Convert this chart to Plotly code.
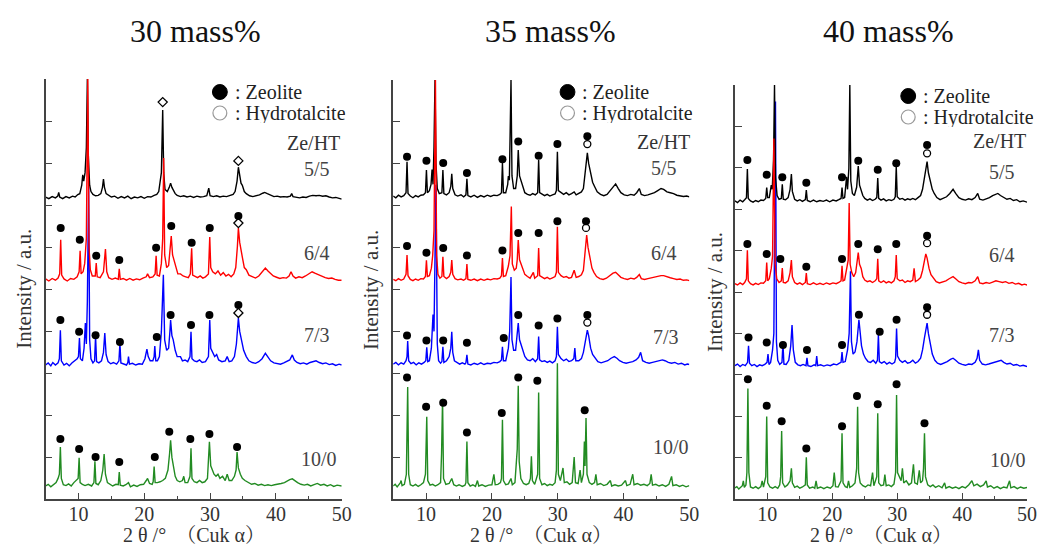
import plotly.graph_objects as go

# ---------------- data (2theta, intensity above own baseline, a.u.) ----------------
PANEL_TITLES = ["30 mass%", "35 mass%", "40 mass%"]
RATIOS = ["5/5", "6/4", "7/3", "10/0"]
X_MAJOR = [10, 20, 30, 40, 50]
X_MINOR = [15, 25, 35, 45]

bk30 = [(5.0,0.02),(5.5,-0.02),(6.0,0.03),(6.5,0.0),(6.85,0.04),(7.0,0.13),(7.15,0.02),(7.6,-0.02),(8.1,0.03),(8.6,0.0),(9.1,0.04),(9.5,0.02),(9.9,0.08),(10.2,0.1),(10.5,0.3),(10.65,0.55),(10.8,0.4),(11.0,0.6),(11.2,1.2),(11.35,2.83),(11.5,1.0),(11.7,0.3),(11.9,0.15),(12.2,0.08),(12.6,0.05),(13.0,0.06),(13.4,0.1),(13.65,0.25),(13.8,0.45),(13.95,0.25),(14.2,0.1),(14.6,0.05),(15.0,0.02),(15.5,0.04),(16.0,-0.01),(16.5,0.03),(17.0,0.0),(17.5,0.04),(18.0,-0.02),(18.5,0.02),(19.0,0.0),(19.5,0.03),(20.0,-0.01),(20.5,0.03),(21.0,0.02),(21.5,0.06),(21.9,0.08),(22.2,0.15),(22.45,0.5),(22.6,0.6),(22.8,2.09),(22.95,0.6),(23.15,0.2),(23.5,0.15),(23.8,0.25),(24.0,0.35),(24.2,0.25),(24.4,0.2),(24.7,0.1),(25.0,0.06),(25.5,0.03),(26.0,0.05),(26.5,0.02),(27.0,0.04),(27.5,0.01),(28.0,0.04),(28.5,0.02),(29.0,0.03),(29.5,0.05),(29.8,0.23),(30.0,0.05),(30.5,0.03),(31.0,0.05),(31.5,0.02),(32.0,0.04),(32.5,0.03),(33.0,0.05),(33.5,0.08),(33.8,0.15),(34.1,0.4),(34.3,0.73),(34.5,0.5),(34.7,0.35),(34.9,0.3),(35.2,0.15),(35.5,0.1),(36.0,0.05),(36.5,0.03),(37.0,0.05),(37.5,0.07),(38.0,0.11),(38.3,0.13),(38.7,0.1),(39.2,0.06),(39.7,0.03),(40.2,0.04),(40.7,0.02),(41.2,0.03),(41.7,0.02),(42.2,0.04),(42.4,0.1),(42.6,0.03),(43.1,0.02),(43.6,0.0),(44.1,0.02),(44.6,0.01),(45.1,0.04),(45.6,0.06),(46.1,0.05),(46.6,0.06),(47.1,0.04),(47.6,0.05),(48.1,0.02),(48.6,0.0),(49.1,0.01),(49.6,-0.02),(50.0,-0.03)]

rd30 = [(5.0,0.03),(5.5,-0.02),(6.0,0.04),(6.5,0.0),(6.9,0.05),(7.15,0.15),(7.3,0.96),(7.45,0.12),(7.8,0.03),(8.3,-0.02),(8.8,0.04),(9.3,0.02),(9.8,0.08),(10.1,0.2),(10.25,0.7),(10.4,0.15),(10.7,0.2),(10.95,0.4),(11.2,1.0),(11.42,4.79),(11.6,0.8),(11.8,0.25),(12.1,0.1),(12.55,0.1),(12.7,0.41),(12.85,0.08),(13.3,0.06),(13.8,0.2),(14.1,0.74),(14.3,0.2),(14.6,0.06),(15.1,0.02),(15.6,0.05),(16.05,0.02),(16.2,0.27),(16.35,0.02),(16.8,0.04),(17.3,0.0),(17.8,0.04),(18.3,0.0),(18.8,0.03),(19.3,0.01),(19.8,0.05),(20.3,0.08),(20.5,0.15),(20.8,0.06),(21.3,0.08),(21.65,0.15),(21.8,0.58),(21.95,0.12),(22.3,0.1),(22.6,0.4),(22.8,1.0),(22.95,2.91),(23.1,0.6),(23.4,0.3),(23.7,0.35),(23.95,0.7),(24.1,1.05),(24.3,0.6),(24.5,0.5),(24.8,0.3),(25.1,0.15),(25.5,0.15),(25.9,0.1),(26.3,0.08),(26.7,0.06),(27.0,0.15),(27.2,0.76),(27.35,0.12),(27.7,0.1),(28.1,0.06),(28.5,0.1),(28.9,0.05),(29.3,0.08),(29.75,0.15),(29.95,1.03),(30.1,0.3),(30.4,0.2),(30.8,0.15),(31.2,0.22),(31.6,0.12),(32.0,0.18),(32.4,0.1),(32.8,0.14),(33.2,0.08),(33.6,0.15),(33.9,0.3),(34.15,0.8),(34.3,1.24),(34.5,0.9),(34.75,0.6),(34.9,0.55),(35.2,0.3),(35.5,0.25),(35.9,0.12),(36.4,0.08),(36.9,0.05),(37.4,0.1),(37.8,0.18),(38.1,0.24),(38.4,0.29),(38.8,0.22),(39.2,0.15),(39.6,0.1),(40.1,0.07),(40.6,0.04),(41.1,0.06),(41.6,0.05),(42.0,0.1),(42.3,0.2),(42.6,0.1),(43.0,0.05),(43.5,0.08),(44.0,0.06),(44.5,0.1),(45.0,0.15),(45.5,0.2),(46.0,0.16),(46.5,0.12),(47.0,0.1),(47.5,0.06),(48.0,0.04),(48.5,0.05),(49.0,0.02),(49.5,0.0),(50.0,0.0)]

bl30 = [(5.0,0.0),(5.4,0.05),(5.8,-0.02),(6.1,0.06),(6.5,0.0),(6.9,0.05),(7.1,0.15),(7.25,0.83),(7.4,0.1),(7.8,0.0),(8.2,0.04),(8.6,-0.02),(9.0,0.05),(9.4,0.1),(9.8,0.15),(10.0,0.2),(10.15,0.64),(10.3,0.15),(10.6,0.1),(10.85,0.4),(11.05,1.0),(11.2,0.5),(11.35,1.5),(11.55,4.25),(11.7,0.6),(11.9,0.15),(12.2,0.05),(12.45,0.1),(12.6,0.69),(12.75,0.08),(13.1,0.05),(13.5,0.1),(13.8,0.3),(14.0,0.76),(14.2,0.25),(14.5,0.08),(14.9,0.03),(15.3,0.06),(15.8,0.02),(16.15,0.1),(16.3,0.52),(16.45,0.05),(16.9,0.03),(17.3,0.0),(17.5,0.06),(17.6,0.2),(17.75,0.02),(18.2,0.04),(18.7,0.0),(19.2,0.03),(19.7,0.02),(20.1,0.15),(20.4,0.38),(20.6,0.2),(20.9,0.1),(21.3,0.1),(21.5,0.2),(21.6,0.45),(21.75,0.1),(22.0,0.1),(22.3,0.2),(22.6,0.8),(22.9,2.15),(23.1,0.6),(23.4,0.35),(23.7,0.4),(23.9,0.8),(24.0,1.07),(24.2,0.7),(24.4,0.6),(24.7,0.35),(25.0,0.2),(25.5,0.2),(25.8,0.1),(26.2,0.12),(26.6,0.08),(26.95,0.2),(27.1,0.79),(27.25,0.15),(27.6,0.1),(28.0,0.08),(28.4,0.12),(28.8,0.06),(29.3,0.08),(29.75,0.2),(29.95,1.07),(30.1,0.4),(30.4,0.3),(30.7,0.2),(31.0,0.25),(31.3,0.12),(31.8,0.08),(32.3,0.1),(32.6,0.2),(32.9,0.08),(33.3,0.1),(33.7,0.2),(34.0,0.5),(34.3,1.12),(34.5,0.8),(34.8,0.55),(35.1,0.35),(35.5,0.2),(35.9,0.1),(36.4,0.06),(36.9,0.04),(37.4,0.08),(37.9,0.15),(38.4,0.28),(38.8,0.2),(39.2,0.1),(39.7,0.05),(40.2,0.04),(40.7,0.02),(41.2,0.05),(41.7,0.08),(42.1,0.12),(42.5,0.24),(42.8,0.12),(43.2,0.06),(43.7,0.03),(44.2,0.05),(44.7,0.02),(45.2,0.06),(45.7,0.08),(46.1,0.1),(46.6,0.06),(47.1,0.03),(47.6,0.05),(48.1,0.01),(48.6,0.03),(49.1,-0.01),(49.6,0.02),(50.0,0.0)]

gr30 = [(5.0,0.02),(5.4,0.06),(5.8,0.0),(6.2,0.05),(6.6,0.1),(6.9,0.2),(7.1,0.3),(7.25,0.95),(7.4,0.2),(7.7,0.05),(8.1,0.03),(8.5,0.07),(8.9,0.02),(9.3,0.1),(9.6,0.15),(9.95,0.2),(10.1,0.69),(10.25,0.1),(10.6,0.06),(11.0,0.03),(11.5,0.06),(12.0,0.02),(12.35,0.1),(12.5,0.61),(12.65,0.08),(13.0,0.05),(13.4,0.15),(13.7,0.4),(13.9,0.78),(14.1,0.3),(14.4,0.1),(14.8,0.05),(15.2,0.02),(15.7,0.06),(16.05,0.05),(16.2,0.35),(16.35,0.04),(16.8,0.02),(17.2,0.05),(17.6,0.1),(17.9,0.0),(18.4,0.04),(18.9,0.01),(19.4,0.05),(19.9,0.06),(20.3,0.15),(20.5,0.2),(20.8,0.08),(21.2,0.06),(21.35,0.12),(21.5,0.48),(21.65,0.1),(22.0,0.1),(22.4,0.12),(22.8,0.15),(23.2,0.2),(23.6,0.4),(23.85,0.8),(24.0,1.11),(24.2,0.7),(24.4,0.5),(24.7,0.25),(25.0,0.15),(25.4,0.12),(25.8,0.15),(26.0,0.25),(26.2,0.1),(26.6,0.1),(26.95,0.25),(27.1,0.92),(27.25,0.2),(27.6,0.12),(28.0,0.1),(28.4,0.15),(28.8,0.1),(29.2,0.12),(29.6,0.2),(29.9,1.07),(30.1,0.5),(30.3,0.4),(30.6,0.3),(30.9,0.25),(31.2,0.3),(31.5,0.2),(31.9,0.25),(32.3,0.15),(32.6,0.3),(32.9,0.15),(33.3,0.15),(33.7,0.25),(33.95,0.4),(34.1,0.83),(34.3,0.45),(34.6,0.3),(34.9,0.2),(35.3,0.15),(35.8,0.1),(36.3,0.06),(36.8,0.08),(37.3,0.04),(37.8,0.06),(38.3,0.03),(38.8,0.05),(39.3,0.03),(39.8,0.05),(40.3,0.06),(40.8,0.08),(41.3,0.1),(41.7,0.14),(42.1,0.17),(42.5,0.19),(42.9,0.14),(43.3,0.1),(43.8,0.06),(44.3,0.04),(44.8,0.06),(45.3,0.02),(45.8,0.05),(46.3,0.08),(46.8,0.04),(47.3,0.06),(47.8,0.02),(48.3,0.05),(48.8,0.01),(49.3,0.04),(50.0,0.02)]

bk35 = [(5.0,0.02),(5.4,-0.02),(5.8,0.04),(6.2,0.0),(6.6,0.03),(6.95,0.1),(7.1,0.84),(7.25,0.08),(7.6,0.02),(8.0,-0.02),(8.4,0.03),(8.8,0.0),(9.2,0.04),(9.6,0.05),(9.9,0.1),(10.05,0.64),(10.2,0.1),(10.5,0.15),(10.75,0.3),(10.9,0.65),(11.05,0.3),(11.2,1.2),(11.35,2.79),(11.5,0.8),(11.7,0.2),(12.0,0.08),(12.4,0.1),(12.55,0.64),(12.7,0.08),(13.1,0.05),(13.5,0.1),(13.75,0.25),(13.9,0.55),(14.05,0.2),(14.4,0.05),(14.8,0.02),(15.3,0.05),(15.7,0.0),(16.05,0.05),(16.2,0.43),(16.35,0.03),(16.8,0.0),(17.3,0.04),(17.8,-0.01),(18.3,0.03),(18.8,0.0),(19.3,0.04),(19.8,0.01),(20.3,0.04),(20.8,0.03),(21.2,0.06),(21.45,0.1),(21.6,0.81),(21.75,0.1),(22.1,0.1),(22.4,0.3),(22.5,0.5),(22.65,0.4),(22.9,2.79),(23.05,0.5),(23.3,0.2),(23.6,0.2),(23.85,0.5),(24.0,1.12),(24.2,0.5),(24.4,0.4),(24.7,0.2),(25.0,0.1),(25.4,0.06),(25.8,0.04),(26.2,0.08),(26.6,0.05),(26.95,0.1),(27.1,0.88),(27.25,0.1),(27.6,0.06),(28.0,0.03),(28.4,0.06),(28.8,0.02),(29.2,0.05),(29.6,0.07),(29.8,0.15),(29.95,1.08),(30.1,0.15),(30.5,0.1),(30.9,0.06),(31.3,0.1),(31.7,0.05),(32.1,0.08),(32.5,0.12),(32.8,0.05),(33.2,0.08),(33.6,0.12),(33.9,0.2),(34.2,0.6),(34.5,1.05),(34.7,0.8),(35.0,0.6),(35.3,0.35),(35.6,0.25),(36.0,0.12),(36.5,0.06),(37.0,0.03),(37.5,0.06),(38.0,0.15),(38.4,0.22),(38.8,0.31),(39.2,0.2),(39.6,0.1),(40.1,0.05),(40.6,0.03),(41.1,0.06),(41.6,0.04),(42.0,0.1),(42.4,0.2),(42.7,0.06),(43.2,0.03),(43.7,0.05),(44.2,0.08),(44.7,0.1),(45.2,0.15),(45.7,0.2),(46.1,0.18),(46.6,0.12),(47.1,0.1),(47.6,0.08),(48.1,0.04),(48.6,0.03),(49.1,0.01),(49.6,0.02),(50.0,0.0)]

rd35 = [(5.0,0.03),(5.4,0.0),(5.8,0.05),(6.2,0.01),(6.6,0.04),(6.95,0.15),(7.1,0.61),(7.25,0.12),(7.6,0.03),(8.0,0.0),(8.4,0.04),(8.8,0.01),(9.2,0.05),(9.6,0.04),(9.9,0.1),(10.05,0.49),(10.2,0.1),(10.5,0.12),(10.8,0.3),(11.0,0.6),(11.2,1.2),(11.42,4.79),(11.6,0.6),(11.8,0.15),(12.1,0.06),(12.4,0.1),(12.55,0.57),(12.7,0.1),(13.1,0.05),(13.5,0.1),(13.75,0.2),(13.9,0.49),(14.05,0.15),(14.4,0.05),(14.8,0.02),(15.3,0.04),(15.7,0.01),(16.05,0.05),(16.2,0.4),(16.35,0.03),(16.8,0.01),(17.3,0.04),(17.8,0.0),(18.3,0.04),(18.8,0.01),(19.3,0.04),(19.8,0.02),(20.3,0.05),(20.8,0.04),(21.2,0.06),(21.45,0.12),(21.6,0.54),(21.75,0.1),(22.1,0.12),(22.5,0.35),(22.75,0.6),(22.95,1.77),(23.1,0.4),(23.4,0.25),(23.7,0.3),(23.85,0.5),(24.0,0.97),(24.2,0.5),(24.4,0.4),(24.7,0.25),(25.0,0.15),(25.4,0.1),(25.8,0.06),(26.3,0.2),(26.5,0.06),(26.95,0.12),(27.1,0.78),(27.25,0.12),(27.6,0.08),(28.0,0.05),(28.4,0.08),(28.8,0.04),(29.2,0.07),(29.6,0.1),(29.8,0.2),(29.95,1.29),(30.1,0.2),(30.5,0.12),(30.9,0.08),(31.3,0.1),(31.7,0.06),(32.1,0.08),(32.5,0.25),(32.8,0.08),(33.2,0.1),(33.6,0.14),(33.9,0.25),(34.2,0.7),(34.4,1.09),(34.6,0.8),(34.9,0.5),(35.2,0.3),(35.5,0.2),(35.9,0.1),(36.4,0.05),(36.9,0.03),(37.4,0.06),(37.9,0.12),(38.4,0.18),(38.8,0.2),(39.2,0.14),(39.6,0.08),(40.1,0.05),(40.6,0.03),(41.1,0.06),(41.6,0.04),(42.0,0.08),(42.4,0.15),(42.7,0.05),(43.2,0.03),(43.7,0.05),(44.2,0.07),(44.7,0.08),(45.2,0.1),(45.7,0.12),(46.1,0.12),(46.6,0.09),(47.1,0.07),(47.6,0.05),(48.1,0.03),(48.6,0.04),(49.1,0.01),(49.6,0.02),(50.0,0.0)]

bl35 = [(5.0,0.02),(5.4,0.06),(5.8,0.0),(6.2,0.05),(6.6,0.02),(6.95,0.1),(7.1,0.2),(7.2,0.57),(7.35,0.1),(7.7,0.03),(8.1,0.06),(8.5,0.0),(8.9,0.05),(9.3,0.02),(9.7,0.06),(9.95,0.1),(10.1,0.42),(10.25,0.08),(10.5,0.1),(10.8,0.4),(11.05,1.2),(11.2,0.8),(11.5,4.3),(11.7,0.5),(11.9,0.1),(12.2,0.04),(12.4,0.08),(12.55,0.43),(12.7,0.06),(13.1,0.1),(13.5,0.2),(13.75,0.4),(13.9,0.79),(14.05,0.3),(14.3,0.1),(14.7,0.05),(15.1,0.02),(15.5,0.05),(15.9,0.02),(16.05,0.05),(16.2,0.24),(16.35,0.02),(16.8,0.0),(17.3,0.04),(17.8,0.01),(18.3,0.05),(18.8,0.01),(19.3,0.04),(19.8,0.03),(20.3,0.06),(20.8,0.05),(21.2,0.08),(21.45,0.12),(21.6,0.43),(21.75,0.1),(22.1,0.1),(22.5,0.4),(22.7,0.8),(22.9,2.1),(23.05,0.6),(23.3,0.35),(23.6,0.35),(23.85,0.7),(24.0,1.0),(24.2,0.6),(24.4,0.5),(24.7,0.3),(25.0,0.2),(25.4,0.12),(25.8,0.1),(26.2,0.15),(26.6,0.08),(26.95,0.15),(27.1,0.68),(27.25,0.12),(27.6,0.08),(28.0,0.1),(28.4,0.06),(28.8,0.09),(29.2,0.05),(29.6,0.1),(29.8,0.2),(29.95,0.91),(30.1,0.25),(30.5,0.15),(30.9,0.1),(31.3,0.14),(31.7,0.08),(32.1,0.1),(32.45,0.15),(32.6,0.4),(32.75,0.1),(33.2,0.1),(33.6,0.15),(33.9,0.3),(34.2,0.6),(34.5,0.83),(34.7,0.7),(35.0,0.4),(35.3,0.25),(35.7,0.15),(36.1,0.08),(36.6,0.05),(37.1,0.07),(37.6,0.1),(38.1,0.16),(38.6,0.2),(39.0,0.16),(39.4,0.1),(39.9,0.06),(40.4,0.04),(40.9,0.06),(41.4,0.08),(41.9,0.12),(42.3,0.18),(42.6,0.3),(42.9,0.1),(43.4,0.06),(43.9,0.04),(44.4,0.06),(44.9,0.08),(45.4,0.1),(45.9,0.12),(46.3,0.1),(46.8,0.06),(47.3,0.04),(47.8,0.06),(48.3,0.02),(48.8,0.04),(49.3,0.0),(49.7,0.02),(50.0,0.01)]

gr35 = [(5.0,0.02),(5.3,0.06),(5.6,0.0),(5.9,0.05),(6.1,0.1),(6.2,0.15),(6.35,0.03),(6.7,0.06),(7.0,0.3),(7.2,2.38),(7.35,0.3),(7.6,0.05),(8.0,0.02),(8.4,0.06),(8.8,0.01),(9.2,0.05),(9.6,0.1),(9.9,0.3),(10.1,1.67),(10.25,0.15),(10.6,0.04),(11.0,0.06),(11.4,0.02),(11.8,0.05),(12.2,0.1),(12.35,0.8),(12.5,2.1),(12.65,0.2),(13.0,0.06),(13.5,0.08),(13.9,0.2),(14.2,0.05),(14.6,0.02),(15.0,0.05),(15.5,0.01),(15.9,0.04),(16.05,0.1),(16.2,1.08),(16.35,0.1),(16.7,0.02),(17.1,0.05),(17.5,0.01),(17.8,0.15),(18.0,0.02),(18.5,0.05),(19.0,0.01),(19.5,0.04),(20.0,0.05),(20.3,0.3),(20.5,0.05),(20.9,0.06),(21.3,0.1),(21.45,0.2),(21.6,1.6),(21.75,0.15),(22.1,0.05),(22.5,0.07),(22.9,0.2),(23.1,0.05),(23.5,0.1),(23.85,0.9),(24.0,2.41),(24.15,0.6),(24.4,0.2),(24.8,0.08),(25.2,0.05),(25.6,0.08),(25.85,0.2),(26.0,0.73),(26.15,0.15),(26.5,0.06),(26.95,0.3),(27.1,2.25),(27.25,0.2),(27.6,0.05),(28.0,0.08),(28.4,0.03),(28.8,0.06),(29.2,0.04),(29.6,0.1),(29.8,0.4),(29.95,2.95),(30.1,0.3),(30.4,0.15),(30.8,0.45),(31.0,0.1),(31.4,0.12),(31.8,0.06),(32.2,0.1),(32.5,0.71),(32.7,0.1),(33.1,0.08),(33.4,0.4),(33.6,0.1),(33.9,0.3),(34.05,1.08),(34.15,0.5),(34.3,1.64),(34.45,0.3),(34.8,0.1),(35.2,0.06),(35.6,0.1),(35.8,0.3),(36.0,0.05),(36.5,0.08),(37.0,0.03),(37.5,0.06),(38.0,0.15),(38.2,0.02),(38.7,0.05),(39.2,0.02),(39.7,0.04),(40.3,0.15),(40.5,0.03),(41.0,0.06),(41.4,0.3),(41.6,0.05),(42.1,0.08),(42.6,0.04),(43.1,0.06),(43.6,0.03),(44.0,0.08),(44.2,0.3),(44.4,0.04),(44.9,0.06),(45.4,0.02),(45.9,0.05),(46.4,0.01),(46.9,0.06),(47.3,0.25),(47.5,0.03),(48.0,0.05),(48.5,0.01),(49.0,0.04),(49.5,0.0),(50.0,0.03)]

bk40 = [(5.0,0.02),(5.4,-0.02),(5.8,0.04),(6.2,0.0),(6.5,0.05),(6.78,0.1),(6.92,0.79),(7.06,0.08),(7.4,0.02),(7.8,-0.01),(8.2,0.03),(8.6,0.0),(9.0,0.04),(9.4,0.03),(9.75,0.08),(9.9,0.34),(10.05,0.1),(10.3,0.1),(10.5,0.3),(10.6,0.4),(10.75,0.3),(10.95,1.0),(11.1,2.82),(11.25,0.6),(11.5,0.15),(11.8,0.06),(12.15,0.08),(12.3,0.42),(12.45,0.06),(12.8,0.05),(13.2,0.1),(13.5,0.3),(13.7,0.67),(13.85,0.25),(14.2,0.06),(14.6,0.02),(15.0,0.05),(15.4,0.01),(15.85,0.05),(16.0,0.28),(16.15,0.03),(16.6,0.0),(17.1,0.04),(17.6,0.0),(18.1,0.03),(18.6,0.01),(19.1,0.04),(19.6,0.0),(20.1,0.04),(20.6,0.02),(21.0,0.05),(21.35,0.08),(21.5,0.34),(21.65,0.08),(21.9,0.1),(22.1,0.4),(22.2,0.6),(22.35,0.3),(22.55,0.8),(22.7,2.82),(22.85,0.5),(23.1,0.2),(23.4,0.15),(23.75,0.35),(24.0,0.86),(24.2,0.4),(24.4,0.3),(24.7,0.15),(25.0,0.08),(25.4,0.04),(25.8,0.07),(26.2,0.03),(26.6,0.06),(26.85,0.1),(27.0,0.57),(27.15,0.08),(27.5,0.04),(27.9,0.07),(28.3,0.02),(28.7,0.05),(29.1,0.03),(29.5,0.06),(29.7,0.12),(29.85,0.85),(30.0,0.12),(30.4,0.06),(30.8,0.08),(31.2,0.04),(31.6,0.07),(32.0,0.05),(32.4,0.08),(32.8,0.05),(33.2,0.1),(33.6,0.15),(33.9,0.3),(34.2,0.6),(34.6,0.97),(34.8,0.7),(35.1,0.5),(35.4,0.3),(35.7,0.2),(36.1,0.1),(36.6,0.05),(37.1,0.08),(37.6,0.12),(38.1,0.2),(38.6,0.3),(39.0,0.2),(39.5,0.1),(40.0,0.06),(40.5,0.04),(41.0,0.07),(41.5,0.05),(42.0,0.1),(42.4,0.2),(42.7,0.06),(43.2,0.04),(43.7,0.07),(44.2,0.1),(44.7,0.15),(45.1,0.18),(45.5,0.2),(45.9,0.15),(46.4,0.1),(46.9,0.06),(47.4,0.08),(47.9,0.03),(48.4,0.05),(48.9,0.0),(49.4,0.02),(50.0,-0.01)]

rd40 = [(5.0,0.03),(5.4,0.0),(5.8,0.05),(6.2,0.01),(6.5,0.06),(6.78,0.15),(6.92,0.84),(7.06,0.1),(7.4,0.03),(7.8,0.0),(8.2,0.04),(8.6,0.01),(9.0,0.05),(9.4,0.04),(9.75,0.1),(9.9,0.54),(10.05,0.1),(10.3,0.15),(10.6,0.4),(10.8,0.7),(11.0,3.54),(11.2,0.5),(11.45,0.15),(11.8,0.06),(12.15,0.1),(12.3,0.41),(12.45,0.06),(12.8,0.05),(13.2,0.1),(13.5,0.3),(13.7,0.6),(13.85,0.2),(14.2,0.06),(14.6,0.02),(15.0,0.05),(15.4,0.01),(15.85,0.06),(16.0,0.29),(16.15,0.03),(16.6,0.01),(17.1,0.05),(17.6,0.01),(18.1,0.04),(18.6,0.01),(19.1,0.05),(19.6,0.02),(20.1,0.05),(20.6,0.03),(21.0,0.06),(21.35,0.1),(21.5,0.46),(21.65,0.1),(21.9,0.12),(22.2,0.4),(22.45,0.6),(22.6,1.98),(22.75,0.5),(23.0,0.3),(23.3,0.2),(23.6,0.3),(23.85,0.6),(24.0,0.78),(24.2,0.5),(24.45,0.4),(24.7,0.2),(25.0,0.12),(25.4,0.08),(25.8,0.1),(26.2,0.06),(26.6,0.1),(26.85,0.15),(27.0,0.63),(27.15,0.1),(27.5,0.06),(27.9,0.1),(28.3,0.05),(28.7,0.08),(29.1,0.05),(29.5,0.1),(29.7,0.2),(29.85,0.72),(30.0,0.15),(30.4,0.1),(30.8,0.12),(31.2,0.06),(31.6,0.1),(32.0,0.08),(32.4,0.12),(32.6,0.4),(32.8,0.08),(33.2,0.12),(33.6,0.18),(33.9,0.35),(34.2,0.6),(34.4,0.75),(34.6,0.65),(34.9,0.4),(35.2,0.25),(35.6,0.15),(36.0,0.08),(36.5,0.05),(37.0,0.08),(37.5,0.1),(38.0,0.15),(38.6,0.2),(39.0,0.15),(39.5,0.08),(40.0,0.05),(40.5,0.03),(41.0,0.06),(41.5,0.05),(42.0,0.1),(42.4,0.2),(42.7,0.05),(43.2,0.03),(43.7,0.06),(44.2,0.04),(44.7,0.07),(45.2,0.1),(45.7,0.08),(46.2,0.06),(46.7,0.08),(47.2,0.04),(47.7,0.06),(48.2,0.02),(48.7,0.04),(49.2,0.0),(49.6,0.02),(50.0,0.0)]

bl40 = [(5.0,0.02),(5.4,0.06),(5.8,0.0),(6.2,0.05),(6.6,0.02),(6.95,0.1),(7.1,0.5),(7.25,0.08),(7.6,0.02),(8.0,0.05),(8.4,0.0),(8.8,0.04),(9.2,0.02),(9.6,0.05),(9.95,0.1),(10.1,0.3),(10.25,0.05),(10.5,0.1),(10.8,0.4),(11.0,0.8),(11.25,6.4),(11.4,0.6),(11.6,0.15),(11.9,0.05),(12.25,0.1),(12.4,0.56),(12.55,0.06),(12.9,0.05),(13.3,0.15),(13.6,0.5),(13.8,1.0),(14.0,0.4),(14.3,0.1),(14.7,0.04),(15.1,0.02),(15.5,0.05),(15.95,0.02),(16.1,0.21),(16.25,0.02),(16.7,0.0),(17.2,0.04),(17.45,0.02),(17.6,0.25),(17.75,0.02),(18.2,0.04),(18.7,0.01),(19.2,0.04),(19.7,0.02),(20.2,0.06),(20.7,0.04),(21.1,0.08),(21.35,0.1),(21.5,0.35),(21.65,0.1),(22.0,0.12),(22.35,0.4),(22.6,0.8),(22.8,2.3),(22.95,0.6),(23.2,0.3),(23.5,0.35),(23.8,0.6),(24.1,1.13),(24.3,0.7),(24.5,0.5),(24.8,0.3),(25.1,0.2),(25.5,0.12),(25.9,0.1),(26.3,0.15),(26.7,0.08),(26.95,0.15),(27.1,0.76),(27.25,0.12),(27.6,0.08),(28.0,0.12),(28.4,0.06),(28.8,0.1),(29.2,0.06),(29.6,0.1),(29.75,0.2),(29.9,0.92),(30.05,0.25),(30.4,0.15),(30.8,0.1),(31.2,0.14),(31.6,0.08),(32.0,0.1),(32.4,0.15),(32.8,0.08),(33.2,0.12),(33.6,0.2),(33.9,0.4),(34.2,0.7),(34.6,1.05),(34.8,0.8),(35.1,0.5),(35.4,0.3),(35.8,0.15),(36.2,0.08),(36.7,0.05),(37.2,0.08),(37.7,0.12),(38.2,0.17),(38.6,0.2),(39.0,0.15),(39.5,0.08),(40.0,0.05),(40.5,0.03),(41.0,0.06),(41.5,0.05),(42.0,0.1),(42.3,0.2),(42.5,0.4),(42.7,0.15),(43.1,0.06),(43.6,0.04),(44.1,0.06),(44.6,0.08),(45.1,0.1),(45.6,0.12),(46.0,0.15),(46.4,0.1),(46.9,0.06),(47.4,0.08),(47.9,0.03),(48.4,0.05),(48.9,0.01),(49.4,0.03),(50.0,0.0)]

gr40 = [(5.0,0.03),(5.3,0.06),(5.6,0.0),(5.9,0.05),(6.15,0.08),(6.3,0.2),(6.45,0.04),(6.7,0.1),(6.85,0.4),(7.0,2.43),(7.15,0.4),(7.4,0.05),(7.8,0.02),(8.2,0.06),(8.6,0.01),(9.0,0.06),(9.2,0.2),(9.4,0.05),(9.75,0.3),(9.9,1.75),(10.05,0.15),(10.4,0.05),(10.8,0.02),(11.2,0.06),(11.6,0.02),(11.9,0.1),(12.05,0.3),(12.2,1.4),(12.35,0.15),(12.7,0.05),(13.1,0.1),(13.5,0.2),(13.7,0.5),(13.85,0.15),(14.2,0.04),(14.6,0.07),(15.0,0.02),(15.4,0.05),(15.85,0.1),(16.0,0.77),(16.15,0.1),(16.5,0.02),(17.0,0.05),(17.3,0.02),(17.5,0.2),(17.7,0.02),(18.2,0.05),(18.7,0.01),(19.2,0.05),(19.7,0.02),(20.1,0.08),(20.3,0.4),(20.5,0.06),(20.9,0.05),(21.35,0.2),(21.5,1.35),(21.65,0.15),(22.0,0.06),(22.3,0.04),(22.5,0.2),(22.7,0.04),(23.1,0.08),(23.5,0.15),(23.75,0.5),(23.9,1.99),(24.05,0.4),(24.3,0.15),(24.7,0.08),(25.1,0.05),(25.5,0.1),(25.9,0.08),(26.2,0.4),(26.4,0.08),(26.85,0.3),(27.0,1.83),(27.15,0.15),(27.5,0.08),(27.9,0.1),(28.1,0.35),(28.3,0.08),(28.7,0.1),(29.1,0.06),(29.5,0.12),(29.75,0.4),(29.9,2.27),(30.05,0.4),(30.3,0.3),(30.6,0.2),(30.8,0.5),(31.0,0.15),(31.4,0.2),(31.8,0.1),(32.2,0.15),(32.5,0.6),(32.7,0.15),(33.1,0.12),(33.4,0.45),(33.6,0.15),(33.9,0.2),(34.05,0.5),(34.2,1.35),(34.35,0.3),(34.7,0.1),(35.1,0.06),(35.5,0.1),(35.9,0.04),(36.4,0.08),(36.9,0.03),(37.3,0.15),(37.5,0.02),(38.0,0.06),(38.5,0.02),(39.0,0.05),(39.5,0.01),(40.0,0.06),(40.5,0.03),(41.0,0.1),(41.5,0.2),(41.8,0.08),(42.3,0.12),(42.8,0.06),(43.3,0.1),(43.7,0.2),(43.9,0.05),(44.4,0.08),(44.9,0.02),(45.4,0.06),(45.9,0.01),(46.4,0.05),(46.9,0.03),(47.3,0.2),(47.5,0.03),(48.0,0.06),(48.5,0.01),(49.0,0.05),(49.5,0.02),(50.0,0.04)]

# peak markers (2theta, height above own baseline)
ze_bk30 = []
ht_bk30 = [(11.35,3.0),(22.8,2.28),(34.3,0.88)]
ze_rd30 = [(7.3,1.24),(10.2,0.96),(12.7,0.58),(16.2,0.48),(21.8,0.77),(24.1,1.29),(27.2,0.89),(29.95,1.24),(34.3,1.53)]
ht_rd30 = [(34.3,1.36)]
ze_bl30 = [(7.25,1.07),(10.1,0.79),(12.6,0.71),(16.3,0.55),(21.9,0.67),(24.0,1.19),(27.1,0.95),(29.9,1.19),(34.3,1.43)]
ht_bl30 = [(34.3,1.24)]
ze_gr30 = [(7.25,1.14),(10.1,0.9),(12.6,0.71),(16.2,0.59),(21.6,0.71),(23.8,1.31),(27.0,1.14),(29.9,1.26),(34.1,0.95)]
ht_gr30 = []

ze_bk35 = [(7.1,0.96),(10.05,0.86),(12.6,0.81),(16.2,0.57),(21.6,0.9),(24.0,1.32),(27.1,0.98),(29.95,1.26),(34.5,1.45)]
ht_bk35 = [(11.35,2.93),(22.9,2.99),(34.5,1.26)]
ze_rd35 = [(7.1,0.83),(10.05,0.67),(12.6,0.78),(16.2,0.6),(21.6,0.72),(24.0,1.14),(27.1,1.14),(29.95,1.42),(34.3,1.42)]
ht_rd35 = [(34.3,1.26)]
ze_bl35 = [(7.1,0.7),(10.05,0.58),(12.6,0.58),(16.2,0.53),(21.8,0.64),(24.0,1.19),(27.1,0.94),(29.95,1.11),(34.5,1.19)]
ht_bl35 = [(34.5,1.01)]
ze_gr35 = [(7.1,2.61),(10.0,1.91),(12.6,2.01),(16.2,1.3),(21.5,1.76),(24.0,2.61),(26.9,2.53),(34.1,1.83)]
ht_gr35 = []

ze_bk40 = [(6.92,1.01),(9.9,0.65),(12.3,0.59),(16.0,0.46),(21.5,0.59),(24.0,0.99),(27.0,0.77),(29.85,0.93),(34.6,1.37)]
ht_bk40 = [(11.1,3.02),(22.7,2.94),(34.6,1.17)]
ze_rd40 = [(6.92,0.99),(9.9,0.75),(12.0,0.63),(16.0,0.44),(21.5,0.63),(24.0,0.99),(27.0,0.86),(29.85,0.99),(34.6,1.19)]
ht_rd40 = [(34.6,1.01)]
ze_bl40 = [(7.1,0.7),(9.9,0.58),(12.4,0.52),(16.1,0.4),(21.5,0.52),(24.1,1.25),(27.3,0.84),(29.9,1.13),(34.6,1.43)]
ht_bl40 = [(34.6,1.25)]
ze_gr40 = [(7.0,2.65),(9.9,2.01),(12.2,1.64),(16.0,0.98),(21.5,1.52),(23.8,2.25),(27.0,2.05),(29.9,2.53),(34.2,1.59)]
ht_gr40 = []

# ---------------- layout constants ----------------
W, H = 1045, 546
def fx(p): return p / W
def fy(p): return 1 - p / H

# plot boxes in pixels: left, right, top, bottom
BOXES = [(46, 345, 79, 499), (397, 696, 80, 499), (742, 1037, 85, 499)]
# vertical stacking offsets of the four patterns in each panel
OFFSETS = [[7.17, 5.21, 3.19, 0.29], [7.21, 5.21, 3.20, 0.29], [7.18, 5.17, 3.20, 0.24]]
COLORS = ["#000000", "#ff0000", "#0000ff", "#228b22"]
HT_SYMBOL = ["diamond-open", "circle-open", "circle-open"]
SERIF = "Liberation Serif"
AXC = "#444444"

traces = [[bk30, rd30, bl30, gr30], [bk35, rd35, bl35, gr35], [bk40, rd40, bl40, gr40]]
zeo = [[ze_bk30, ze_rd30, ze_bl30, ze_gr30], [ze_bk35, ze_rd35, ze_bl35, ze_gr35], [ze_bk40, ze_rd40, ze_bl40, ze_gr40]]
hyd = [[ht_bk30, ht_rd30, ht_bl30, ht_gr30], [ht_bk35, ht_rd35, ht_bl35, ht_gr35], [ht_bk40, ht_rd40, ht_bl40, ht_gr40]]

fig = go.Figure()
DRAW_ORDER = [2, 0, 1, 3]
for p in range(3):
    xa = "x" if p == 0 else f"x{p+1}"
    ya = "y" if p == 0 else f"y{p+1}"
    for j in DRAW_ORDER:
        pts = traces[p][j]
        fig.add_trace(go.Scatter(
            x=[a for a, b in pts], y=[b + OFFSETS[p][j] for a, b in pts],
            mode="lines", line=dict(color=COLORS[j], width=1.4),
            xaxis=xa, yaxis=ya, hoverinfo="skip"))
    for j in range(4):
        if zeo[p][j]:
            fig.add_trace(go.Scatter(
                x=[a for a, b in zeo[p][j]], y=[b + OFFSETS[p][j] for a, b in zeo[p][j]],
                mode="markers", marker=dict(symbol="circle", size=8, color="#000"),
                xaxis=xa, yaxis=ya, cliponaxis=False, hoverinfo="skip"))
        if hyd[p][j]:
            fig.add_trace(go.Scatter(
                x=[a for a, b in hyd[p][j]], y=[b + OFFSETS[p][j] for a, b in hyd[p][j]],
                mode="markers",
                marker=dict(symbol=HT_SYMBOL[p], size=7, color="#000", line=dict(width=1.3, color="#000")),
                xaxis=xa, yaxis=ya, cliponaxis=False, hoverinfo="skip"))

layout = dict(width=W, height=H, margin=dict(l=0, r=0, t=0, b=0),
              paper_bgcolor="white", plot_bgcolor="white", showlegend=False)
for p, (l, r, t, b) in enumerate(BOXES):
    sx = "" if p == 0 else str(p + 1)
    layout["xaxis" + sx] = dict(
        domain=[fx(l), fx(r)], range=[5, 50], anchor="y" + sx,
        tickmode="array", tickvals=X_MAJOR, ticktext=[str(v) for v in X_MAJOR],
        ticks="inside", ticklen=6, tickwidth=1, tickcolor=AXC, ticklabelstandoff=-4,
        minor=dict(tickmode="array", tickvals=X_MINOR, ticks="inside", ticklen=3,
                   tickwidth=1, tickcolor=AXC, showgrid=False),
        showline=True, linecolor=AXC, linewidth=1.5, showgrid=False, zeroline=False,
        tickfont=dict(family=SERIF, size=20, color="#333"), fixedrange=True)
    layout["yaxis" + sx] = dict(
        domain=[fy(b), fy(t)], range=[0, 10], anchor="x" + sx,
        tickmode="linear", tick0=0, dtick=1, showticklabels=False,
        ticks="inside", ticklen=7, tickwidth=1, tickcolor=AXC,
        showline=True, linecolor=AXC, linewidth=1.5, showgrid=False, zeroline=False, fixedrange=True)

ann = []
shapes = []
def text(x, y, s, size, color="#222", xanchor="center", angle=0, family=SERIF, height=None):
    a = dict(x=fx(x), y=fy(y), xref="paper", yref="paper", text=s, showarrow=False,
             xanchor=xanchor, yanchor="middle", textangle=angle,
             font=dict(family=family, size=size, color=color))
    if height is not None:
        a["height"] = height
    ann.append(a)

TITLE_X = [197, 556, 897]
YLAB_X = [24, 374, 722]
LEG = [(222, 92, 113), (573, 92, 113), (917, 96, 117)]
ZEHT = [(317, 143), (670, 142), (1009, 141)]
RATIO_POS = [[(320, 169), (320, 253), (320, 335), (322, 459)],
             [(670, 168), (670, 253), (672, 337), (677, 447)],
             [(1012, 172), (1012, 255), (1012, 335), (1018, 460)]]

for p, (l, r, t, b) in enumerate(BOXES):
    text(TITLE_X[p], 31, PANEL_TITLES[p], 32, color="#111")
    text(YLAB_X[p], (t + b) / 2, "Intensity / a.u.", 21, color="#333", angle=-90)
    text((l + r) / 2, 535, "2 θ /°　（Cuk α）", 20, color="#333",
         family="Liberation Serif, Noto Serif CJK JP, Noto Sans CJK JP", height=20)
    cx, y1, y2 = LEG[p]
    shapes.append(dict(type="circle", xref="paper", yref="paper",
                       x0=fx(cx - 7.5), x1=fx(cx + 7.5), y0=fy(y1 + 7.5), y1=fy(y1 - 7.5),
                       fillcolor="#000", line=dict(color="#000", width=1)))
    shapes.append(dict(type="circle", xref="paper", yref="paper",
                       x0=fx(cx - 7), x1=fx(cx + 7), y0=fy(y2 + 7), y1=fy(y2 - 7),
                       fillcolor="rgba(0,0,0,0)", line=dict(color="#999", width=1.2)))
    text(cx + 13, y1, ": Zeolite", 20, xanchor="left", height=20)
    text(cx + 13, y2, ": Hydrotalcite", 20, xanchor="left", height=20)
    text(ZEHT[p][0], ZEHT[p][1], "Ze/HT", 20, color="#333")
    for k, (rx, ry) in enumerate(RATIO_POS[p]):
        text(rx, ry, RATIOS[k], 20, color="#444")

layout["annotations"] = ann
layout["shapes"] = shapes
fig.update_layout(**layout)
fig.write_html("out.html", config={"displayModeBar": False},
               post_script="document.body.style.margin='0px';document.body.style.overflow='hidden';")
